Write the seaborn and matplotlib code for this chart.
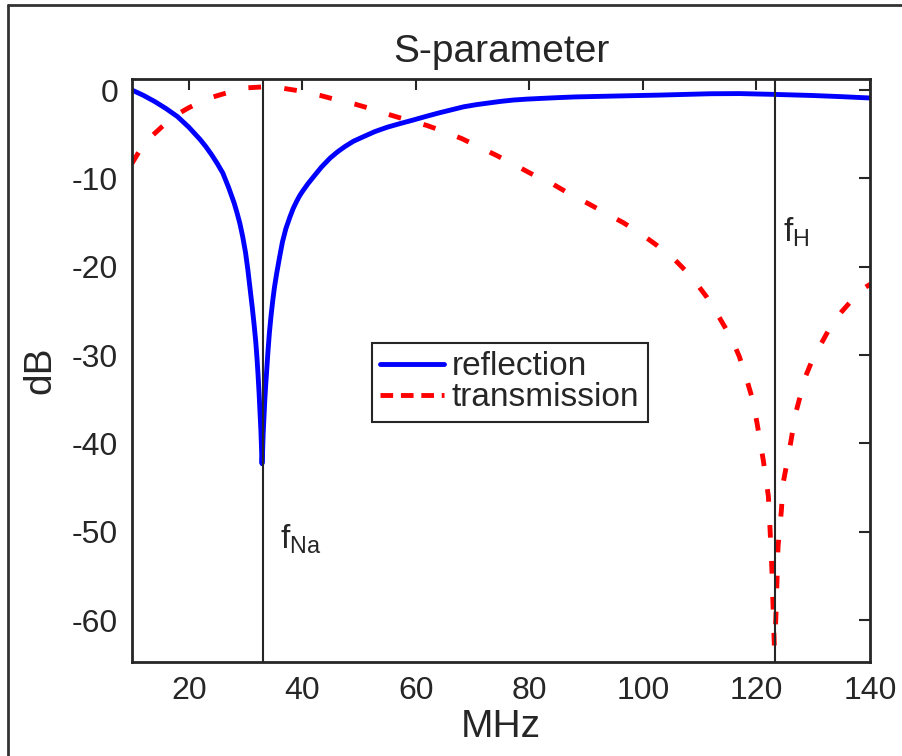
import numpy as np
import pandas as pd
import seaborn as sns
import matplotlib.pyplot as plt
from matplotlib.lines import Line2D

### values
refl_mhz = [10, 11, 12, 13, 14, 15, 16, 17, 18, 19, 20, 21, 22, 23, 24, 25, 26, 27, 28, 28.5, 29,
            29.5, 30, 30.4, 30.8, 31.2, 31.5, 31.8, 32, 32.2, 32.4, 32.55, 32.7, 32.8, 32.9,
            33.0, 33.1, 33.25, 33.4, 33.55, 33.7, 33.95, 34.2, 34.5, 34.8, 35.1, 35.5, 36, 36.5,
            37.1, 37.8, 38.4, 39, 39.5, 40, 41, 42, 43.4, 44.9, 46.2, 47.5, 49, 50.7, 52.8, 55,
            57.2, 59.5, 61.7, 64, 66.2, 68.4, 70.7, 73, 75, 77.2, 79.5, 82, 85, 88, 95, 103,
            111.8, 117, 123, 130, 135, 140]
refl_db = [0.0, -0.3, -0.6, -0.95, -1.3, -1.7, -2.1, -2.55, -3.0, -3.6, -4.2, -4.9, -5.6, -6.4,
           -7.3, -8.3, -9.4, -11.0, -12.8, -13.9, -15.1, -16.6, -18.4, -20.3, -22.5, -24.7,
           -26.5, -28.5, -30.2, -32.2, -34.5, -36.5, -38.5, -40.3, -42.3, -41.0, -39.0, -37.0,
           -35.0, -33.4, -32.0, -29.6, -27.5, -25.5, -23.8, -22.3, -20.7, -18.9, -17.2, -15.7,
           -14.4, -13.4, -12.6, -12.0, -11.5, -10.6, -9.8, -8.7, -7.7, -7.0, -6.4, -5.8, -5.3,
           -4.7, -4.2, -3.8, -3.4, -3.0, -2.6, -2.25, -1.9, -1.65, -1.45, -1.28, -1.13, -1.03,
           -0.95, -0.86, -0.78, -0.68, -0.57, -0.42, -0.40, -0.49, -0.62, -0.75, -0.9]

trans_mhz = [10, 11.4, 13, 15.2, 17.3, 20, 23.4, 26, 28, 30.2, 33, 36.6, 40, 43.1, 46, 49.3, 52,
             55.4, 58.5, 61.9, 65, 68.1, 71, 74.2, 77.5, 80.7, 84, 87.2, 90.5, 93.6, 96.5, 99.5,
             102.5, 105.6, 108.5, 111.2, 113.5, 115.6, 117, 118.3, 119.3, 120.1, 121.2, 122.1,
             122.4, 122.7, 123.0, 123.15, 123.4, 123.6, 123.8, 124.4, 124.7, 125.9, 126.9,
             128.6, 130, 131.5, 133.2, 135, 136.8, 138.5, 140]
trans_db = [-8.3, -6.8, -5.5, -4.2, -3.0, -2.0, -0.95, -0.45, -0.1, 0.25, 0.35, 0.2, -0.15, -0.6,
            -1.1, -1.6, -2.1, -2.8, -3.4, -4.0, -4.7, -5.5, -6.4, -7.4, -8.5, -9.6, -10.6, -11.8,
            -12.9, -14.0, -15.0, -16.2, -17.6, -19.2, -21.1, -23.4, -25.8, -28.1, -30.2, -32.8,
            -35.0, -37.7, -41.9, -46.0, -49.8, -54.0, -60.0, -63.0, -60.0, -55.9, -51.7, -47.5,
            -44.5, -40.4, -36.6, -32.5, -30.3, -28.6, -26.6, -25.1, -23.8, -22.6, -22.0]

f_na = 33.0
f_h = 123.2
x_ticks = [20, 40, 60, 80, 100, 120, 140]
y_ticks = [0, -10, -20, -30, -40, -50, -60]

sns.set_style("white")
plt.rcParams['font.family'] = ['Liberation Sans', 'DejaVu Sans']
plt.rcParams['axes.unicode_minus'] = False
plt.rcParams['mathtext.fontset'] = 'custom'
plt.rcParams['mathtext.rm'] = 'Liberation Sans'
plt.rcParams['mathtext.it'] = 'Liberation Sans'

dark = '#262626'

fig = plt.figure(figsize=(9.03, 7.56), dpi=100)
ax = fig.add_axes([132/903, 94/756, 738/903, 583/756])

refl = pd.DataFrame({'MHz': refl_mhz, 'dB': refl_db})
trans = pd.DataFrame({'MHz': trans_mhz, 'dB': trans_db})

sns.lineplot(data=refl, x='MHz', y='dB', ax=ax, color='#0000ff', lw=3.5, label='reflection')
sns.lineplot(data=trans, x='MHz', y='dB', ax=ax, color='#ff0000', lw=3.5, label='transmission')
ax.lines[1].set_dashes((2.6, 4.8))
ax.lines[1].set_dash_capstyle('butt')

ax.axvline(f_na, color=dark, lw=1.5, zorder=3)
ax.axvline(f_h, color=dark, lw=1.5, zorder=3)
ax.text(36.1, -50.9, r'$\mathregular{f_{Na}}$', fontsize=24, va='center', ha='left')
ax.text(124.7, -16.1, r'$\mathregular{f_{H}}$', fontsize=24, va='center', ha='left')

ax.set_xlim(10, 140)
ax.set_ylim(-64.75, 1.25)
ax.set_xticks(x_ticks)
ax.set_yticks(y_ticks)
ax.tick_params(direction='in', length=8, width=1.5, colors=dark, labelsize=23,
               top=True, right=True, pad=10, labelcolor='#262626')
for s in ax.spines.values():
    s.set_visible(True)
    s.set_color(dark)
    s.set_linewidth(2)

ax.set_title('S-parameter', fontsize=28, color=dark, pad=12)
ax.set_xlabel('MHz', fontsize=28, color=dark, labelpad=2)
ax.set_ylabel('dB', fontsize=28, color=dark, labelpad=10)

handles = [Line2D([], [], color='#0000ff', lw=3.5),
           Line2D([], [], color='#ff0000', lw=3.5, dashes=(2.6, 1.6))]
leg = ax.legend(handles, ['reflection', 'transmission'], loc='upper left',
                bbox_to_anchor=(0.325, 0.547), borderaxespad=0, fontsize=24,
                labelspacing=0.0, handlelength=1.9, handletextpad=0.25, borderpad=0.25,
                fancybox=False, framealpha=1)
leg.get_frame().set_edgecolor(dark)
leg.get_frame().set_linewidth(1.5)

### frame around the whole figure
fig.add_artist(Line2D([8/903, 8/903], [0, 1 - 5/756], color='#333333', lw=2))
fig.add_artist(Line2D([8/903, 1], [1 - 5/756, 1 - 5/756], color='#333333', lw=2))

fig.savefig('out.png', dpi=100)
